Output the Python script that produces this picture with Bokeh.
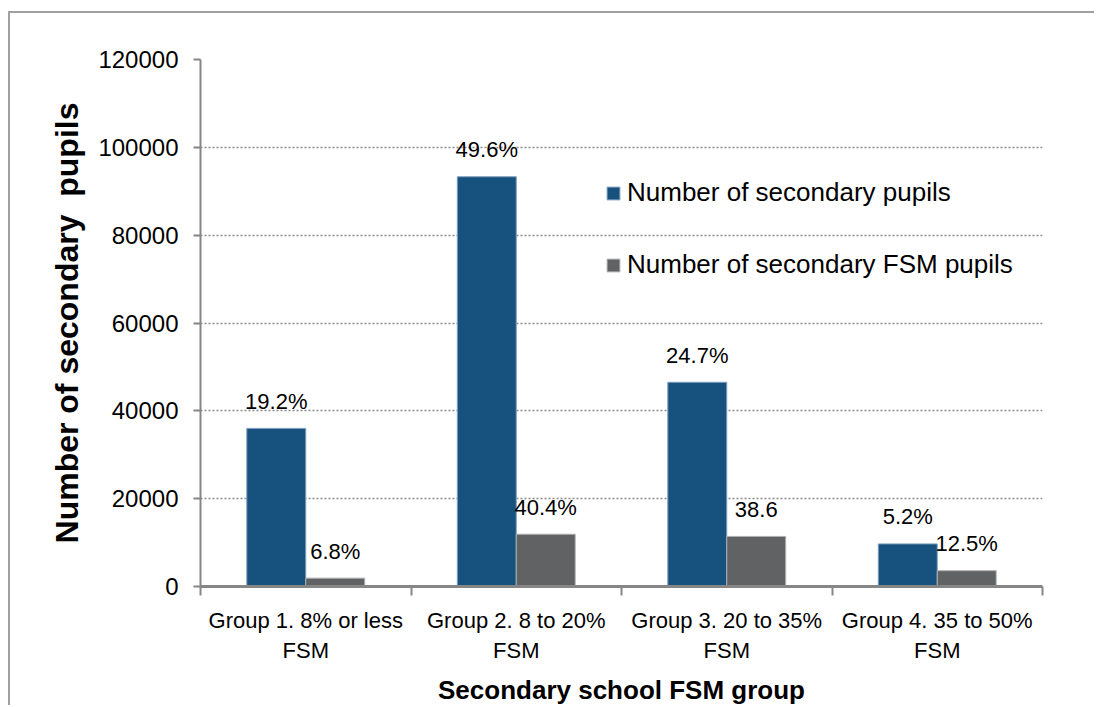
from bokeh.plotting import figure
from bokeh.models import (ColumnDataSource, FixedTicker, Legend, LegendItem,
                          Range1d, NumeralTickFormatter)
from bokeh.core.properties import value
from bokeh.embed import file_html
from bokeh.resources import INLINE

# ---- data ----
categories = ["Group 1. 8% or less\nFSM", "Group 2. 8 to 20%\nFSM",
              "Group 3. 20 to 35%\nFSM", "Group 4. 35 to 50%\nFSM"]
pupils = [36000, 93300, 46500, 9700]
fsm_pupils = [1900, 11900, 11400, 3600]
pupils_labels = ["19.2%", "49.6%", "24.7%", "5.2%"]
fsm_labels = ["6.8%", "40.4%", "38.6", "12.5%"]
series_names = ["Number of secondary pupils", "Number of secondary FSM pupils"]
y_ticks = [0, 20000, 40000, 60000, 80000, 100000, 120000]
x_title = "Secondary school FSM group"
y_title = "Number of secondary\u00a0\u00a0pupils"

BLUE = "#17527E"
GREY = "#616264"
AXIS = "#868686"
FONT = "Liberation Sans"

n = len(categories)
centers = [i + 0.5 for i in range(n)]
bw = 0.28
src = ColumnDataSource(dict(
    xb=[c - bw / 2 for c in centers], xg=[c + bw / 2 for c in centers],
    pupils=pupils, fsm=fsm_pupils, lb=pupils_labels, lg=fsm_labels))

p = figure(width=1086, height=694, output_backend="svg", toolbar_location=None,
           x_range=Range1d(0, n), y_range=Range1d(0, y_ticks[-1]),
           min_border_left=190, min_border_right=54, min_border_top=46,
           min_border_bottom=121)
p.styles = {"border-left": "2px solid #a0a0a0", "border-top": "2px solid #a0a0a0",
            "margin-top": "11px", "margin-left": "8px"}
p.outline_line_color = None
p.background_fill_color = "white"

rb = p.vbar(x="xb", top="pupils", width=bw, source=src, fill_color=BLUE,
            line_color="#7f9fbf", line_width=1)
rg = p.vbar(x="xg", top="fsm", width=bw, source=src, fill_color=GREY,
            line_color="#b0b0b0", line_width=1)

lbl_font = "22px"
p.text(x="xb", y="pupils", text="lb", source=src, text_align="center",
       text_baseline="middle", y_offset=-27, text_font=value(FONT),
       text_font_size=lbl_font, text_color="black")
p.text(x="xg", y="fsm", text="lg", source=src, text_align="center",
       text_baseline="middle", y_offset=-27, text_font=value(FONT),
       text_font_size=lbl_font, text_color="black")

# y axis
ya = p.yaxis[0]
ya.ticker = FixedTicker(ticks=y_ticks, minor_ticks=[])
ya.formatter = NumeralTickFormatter(format="0")
ya.axis_line_color = AXIS
ya.axis_line_width = 2
ya.major_tick_line_color = AXIS
ya.major_tick_line_width = 2
ya.major_tick_out = 7
ya.major_tick_in = 0
ya.minor_tick_line_color = None
ya.major_label_text_font = FONT
ya.major_label_text_font_size = "24px"
ya.major_label_text_color = "black"
ya.major_label_standoff = 15
ya.axis_label = y_title
ya.axis_label_text_font = FONT
ya.axis_label_text_font_style = "bold"
ya.axis_label_text_font_size = "32px"
ya.axis_label_text_color = "black"
ya.axis_label_standoff = 10

# x axis
xa = p.xaxis[0]
xa.ticker = FixedTicker(ticks=centers, minor_ticks=list(range(n + 1)))
xa.major_label_overrides = {c: lab for c, lab in zip(centers, categories)}
xa.axis_line_color = AXIS
xa.axis_line_width = 3
xa.major_tick_line_color = None
xa.major_tick_out = 0
xa.major_tick_in = 0
xa.minor_tick_line_color = AXIS
xa.minor_tick_line_width = 2
xa.minor_tick_out = 9
xa.minor_tick_in = 0
xa.major_label_text_font = FONT
xa.major_label_text_font_size = "22px"
xa.major_label_text_color = "black"
xa.major_label_standoff = 12
xa.axis_label = x_title
xa.axis_label_text_font = FONT
xa.axis_label_text_font_style = "bold"
xa.axis_label_text_font_size = "26px"
xa.axis_label_text_color = "black"
xa.axis_label_standoff = 9

p.xgrid.visible = False
p.ygrid.ticker = FixedTicker(ticks=y_ticks[1:])
p.ygrid.grid_line_color = "#8a8a8a"
p.ygrid.grid_line_dash = "2 2"
p.ygrid.grid_line_width = 1.5

legend = Legend(items=[LegendItem(label=series_names[0], renderers=[rb]),
                       LegendItem(label=series_names[1], renderers=[rg])],
                location=(405, 306), orientation="vertical")
legend.border_line_color = None
legend.background_fill_alpha = 0
legend.padding = 0
legend.margin = 0
legend.spacing = 41
legend.glyph_width = 16
legend.glyph_height = 16
legend.label_standoff = 6
legend.label_text_font = FONT
legend.label_text_font_size = "26px"
legend.label_text_color = "black"
p.add_layout(legend)

open("out.html", "w").write(file_html(p, INLINE))
